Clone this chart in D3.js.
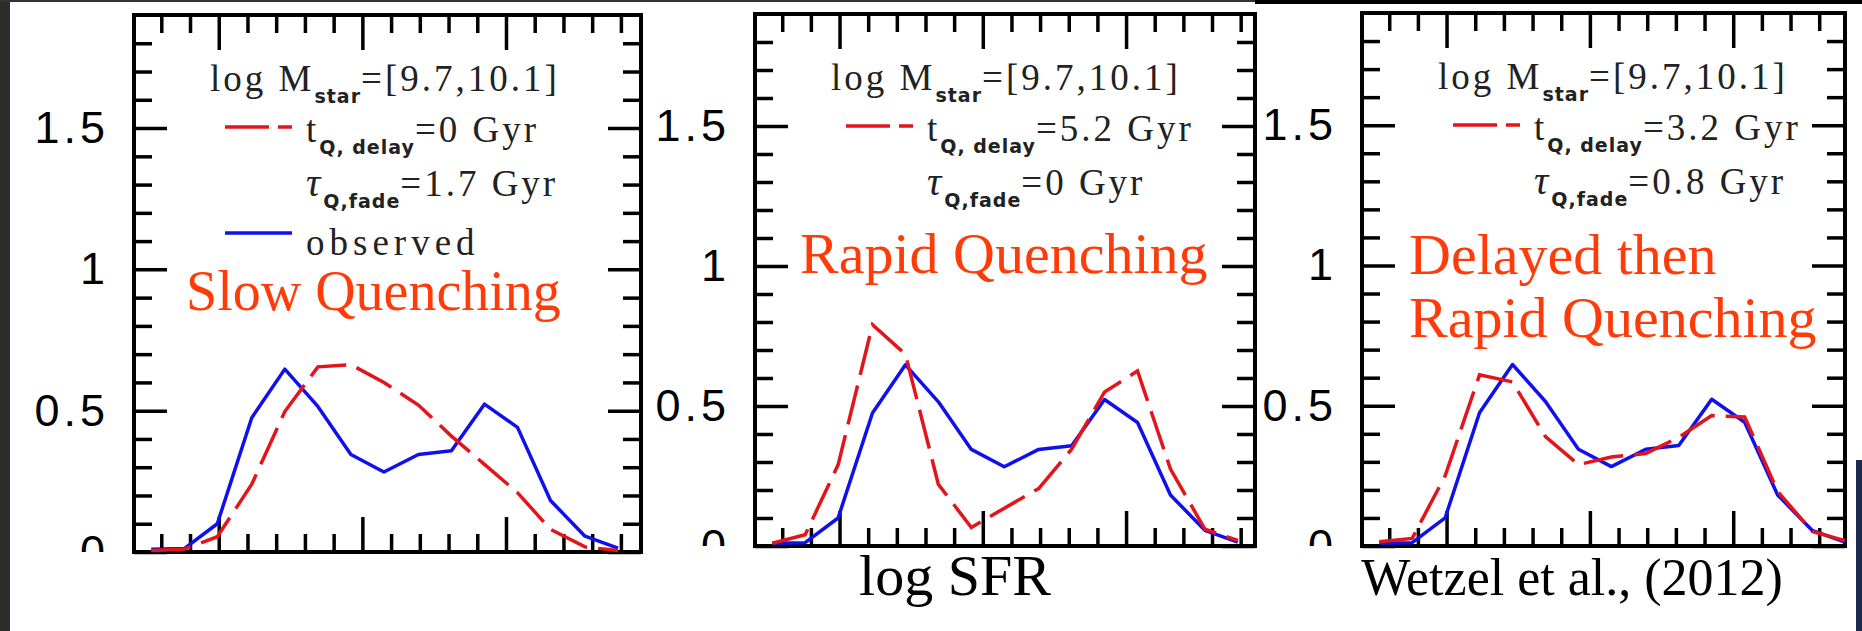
<!DOCTYPE html>
<html>
<head>
<meta charset="utf-8">
<script src="https://cdn.jsdelivr.net/npm/d3@7"></script>
<style>
  body { margin: 0; background: #fff; }
</style>
</head>
<body>
<script>
var width = 1862;
var height = 631;

// bin centres (log sSFR) and normalised distributions
var bins = [-12.47, -12.24, -12.01, -11.77, -11.54, -11.31, -11.08, -10.85, -10.61, -10.38, -10.15, -9.92, -9.69, -9.45, -9.22];
var observed = [0.01, 0.012, 0.10, 0.475, 0.647, 0.515, 0.345, 0.283, 0.345, 0.358, 0.523, 0.441, 0.182, 0.056, 0.014];
var slowModel = [0.005, 0.01, 0.054, 0.24, 0.497, 0.655, 0.663, 0.60, 0.52, 0.41, 0.31, 0.21, 0.08, 0.018, 0.005];
var rapidModel = [0.01, 0.04, 0.29, 0.79, 0.685, 0.22, 0.066, 0.135, 0.205, 0.346, 0.55, 0.625, 0.275, 0.06, 0.02];
var delayedModel = [0.015, 0.027, 0.25, 0.61, 0.585, 0.39, 0.29, 0.317, 0.33, 0.387, 0.465, 0.46, 0.195, 0.052, 0.019];

var yTicks = [0, 0.5, 1, 1.5];
var yMax = 1.9;
var xMin = -12.59;
var massRange = "=[9.7,10.1]";
var delayLabels = ["=0 Gyr", "=5.2 Gyr", "=3.2 Gyr"];
var fadeLabels = ["=1.7 Gyr", "=0 Gyr", "=0.8 Gyr"];
var titles = [["Slow Quenching"], ["Rapid Quenching"], ["Delayed then", "Rapid Quenching"]];
var models = [slowModel, rapidModel, delayedModel];

// layout of the three pasted panels
var panels = [
  { left: 134, right: 641, top: 15, bottom: 552, xMax: -9.06, titleX: 186, titleY: [310], titleSize: 56, legendObs: true },
  { left: 755, right: 1255, top: 14, bottom: 546, xMax: -9.10, titleX: 800, titleY: [273], titleSize: 58, legendObs: false },
  { left: 1362, right: 1845, top: 13, bottom: 546, xMax: -9.22, titleX: 1409, titleY: [274, 337], titleSize: 58, legendObs: false }
];

var blue = "#1010ee";
var red = "#e3151a";
var orange = "#ff3b0a";
var legendFont = "Liberation Serif";

var svg = d3.select("body")
  .append("svg")
  .attr("width", width)
  .attr("height", height)
  .style("display", "block");

svg.append("rect").attr("width", width).attr("height", height).attr("fill", "#fff");

// screenshot edges
svg.append("rect").attr("x", 0).attr("y", 0).attr("width", 10).attr("height", height).attr("fill", "#2e2c28");
svg.append("rect").attr("x", 0).attr("y", 0).attr("width", 1255).attr("height", 2).attr("fill", "#333");
svg.append("rect").attr("x", 1255).attr("y", 0).attr("width", width - 1255).attr("height", 4).attr("fill", "#000");
svg.append("rect").attr("x", 1856).attr("y", 460).attr("width", 6).attr("height", height - 460).attr("fill", "#1d2b4c");

var defs = svg.append("defs");

function styleTicks(sel) {
  sel.select(".domain").remove();
  sel.selectAll(".tick line").attr("stroke", "#000").attr("stroke-width", 3.5);
}

function addLine(g, x0, x1, yy, color, dash) {
  var l = g.append("line")
    .attr("x1", x0).attr("x2", x1).attr("y1", yy).attr("y2", yy)
    .attr("stroke", color).attr("stroke-width", 3.5);
  if (dash) l.attr("stroke-dasharray", dash);
}

// text with a subscript part
function subText(g, xx, yy, main, sub, rest, italicMain) {
  var t = g.append("text")
    .attr("x", xx).attr("y", yy)
    .attr("font-family", legendFont)
    .attr("font-size", 37)
    .attr("letter-spacing", 3)
    .attr("fill", "#222");
  var m = t.append("tspan").text(main);
  if (italicMain) m.attr("font-style", "italic").attr("font-size", 40);
  if (sub) {
    t.append("tspan").text(sub)
      .attr("dy", 12)
      .attr("font-family", "DejaVu Sans")
      .attr("font-weight", "bold")
      .attr("font-size", 19)
      .attr("letter-spacing", 1);
    t.append("tspan").text(rest).attr("dy", -12);
  }
  return t;
}

panels.forEach(function(p, i) {
  var x = d3.scaleLinear().domain([xMin, p.xMax]).range([p.left, p.right]);
  var y = d3.scaleLinear().domain([0, yMax]).range([p.bottom, p.top]);
  var g = svg.append("g");

  var minorX = d3.range(Math.ceil(xMin * 5), Math.floor(p.xMax * 5) + 1)
    .filter(function(k) { return k % 5 !== 0; })
    .map(function(k) { return k / 5; });
  var majorX = d3.range(Math.ceil(xMin), Math.floor(p.xMax) + 1);
  var minorY = d3.range(1, 19)
    .filter(function(k) { return k % 5 !== 0; })
    .map(function(k) { return k / 10; });

  // ticks on all four sides, pointing inward
  [[minorX, 18], [majorX, 35]].forEach(function(t) {
    g.append("g").attr("transform", "translate(0," + p.bottom + ")")
      .call(d3.axisBottom(x).tickValues(t[0]).tickSize(-t[1]).tickFormat(""))
      .call(styleTicks);
    g.append("g").attr("transform", "translate(0," + p.top + ")")
      .call(d3.axisTop(x).tickValues(t[0]).tickSize(-t[1]).tickFormat(""))
      .call(styleTicks);
  });
  [[minorY, 18], [yTicks, 33]].forEach(function(t) {
    g.append("g").attr("transform", "translate(" + p.left + ",0)")
      .call(d3.axisLeft(y).tickValues(t[0]).tickSize(-t[1]).tickFormat(""))
      .call(styleTicks);
    g.append("g").attr("transform", "translate(" + p.right + ",0)")
      .call(d3.axisRight(y).tickValues(t[0]).tickSize(-t[1]).tickFormat(""))
      .call(styleTicks);
  });

  g.append("rect")
    .attr("x", p.left).attr("y", p.top)
    .attr("width", p.right - p.left).attr("height", p.bottom - p.top)
    .attr("fill", "none").attr("stroke", "#000").attr("stroke-width", 4);

  // y labels, cropped at the bottom like the pasted screenshots
  defs.append("clipPath").attr("id", "lab" + i)
    .append("rect").attr("x", 0).attr("y", 0).attr("width", p.left).attr("height", p.bottom);
  var yl = g.append("g")
    .attr("clip-path", "url(#lab" + i + ")")
    .append("g")
    .attr("transform", "translate(" + p.left + ",0)")
    .call(d3.axisLeft(y).tickValues(yTicks).tickSize(0).tickPadding(25)
      .tickFormat(function(d) { return String(d); }));
  yl.select(".domain").remove();
  yl.selectAll("text")
    .attr("font-family", "Liberation Sans")
    .attr("font-size", 45)
    .attr("letter-spacing", 4)
    .attr("fill", "#000");

  var line = d3.line()
    .x(function(d, j) { return x(bins[j]); })
    .y(function(d) { return y(d); });

  g.append("path").datum(observed)
    .attr("d", line).attr("fill", "none")
    .attr("stroke", blue).attr("stroke-width", 3.5)
    .attr("stroke-linejoin", "round");

  g.append("path").datum(models[i])
    .attr("d", line).attr("fill", "none")
    .attr("stroke", red).attr("stroke-width", 3.5)
    .attr("stroke-dasharray", "40,11");

  // legend block
  var lx = p.left + 172;
  subText(g, p.left + 76, p.top + 76, "log M", "star", massRange);
  addLine(g, p.left + 91, p.left + 158, p.top + 112, red, "44,9");
  subText(g, lx, p.top + 127, "t", "Q, delay", delayLabels[i]);
  subText(g, lx, p.top + 181, "\u03c4", "Q,fade", fadeLabels[i], true);
  if (p.legendObs) {
    addLine(g, p.left + 91, p.left + 158, p.top + 218, blue);
    subText(g, lx, p.top + 240, "observed").attr("letter-spacing", 5);
  }

  titles[i].forEach(function(s, k) {
    g.append("text")
      .attr("x", p.titleX).attr("y", p.titleY[k])
      .attr("font-family", "Liberation Serif")
      .attr("font-size", p.titleSize)
      .attr("fill", orange)
      .text(s);
  });
});

svg.append("text")
  .attr("x", 955).attr("y", 595)
  .attr("text-anchor", "middle")
  .attr("font-family", "Liberation Serif")
  .attr("font-size", 58)
  .attr("fill", "#000")
  .text("log SFR");

svg.append("text")
  .attr("x", 1572).attr("y", 595)
  .attr("text-anchor", "middle")
  .attr("font-family", "Liberation Serif")
  .attr("font-size", 52)
  .attr("fill", "#000")
  .text("Wetzel et al., (2012)");
</script>
</body>
</html>
